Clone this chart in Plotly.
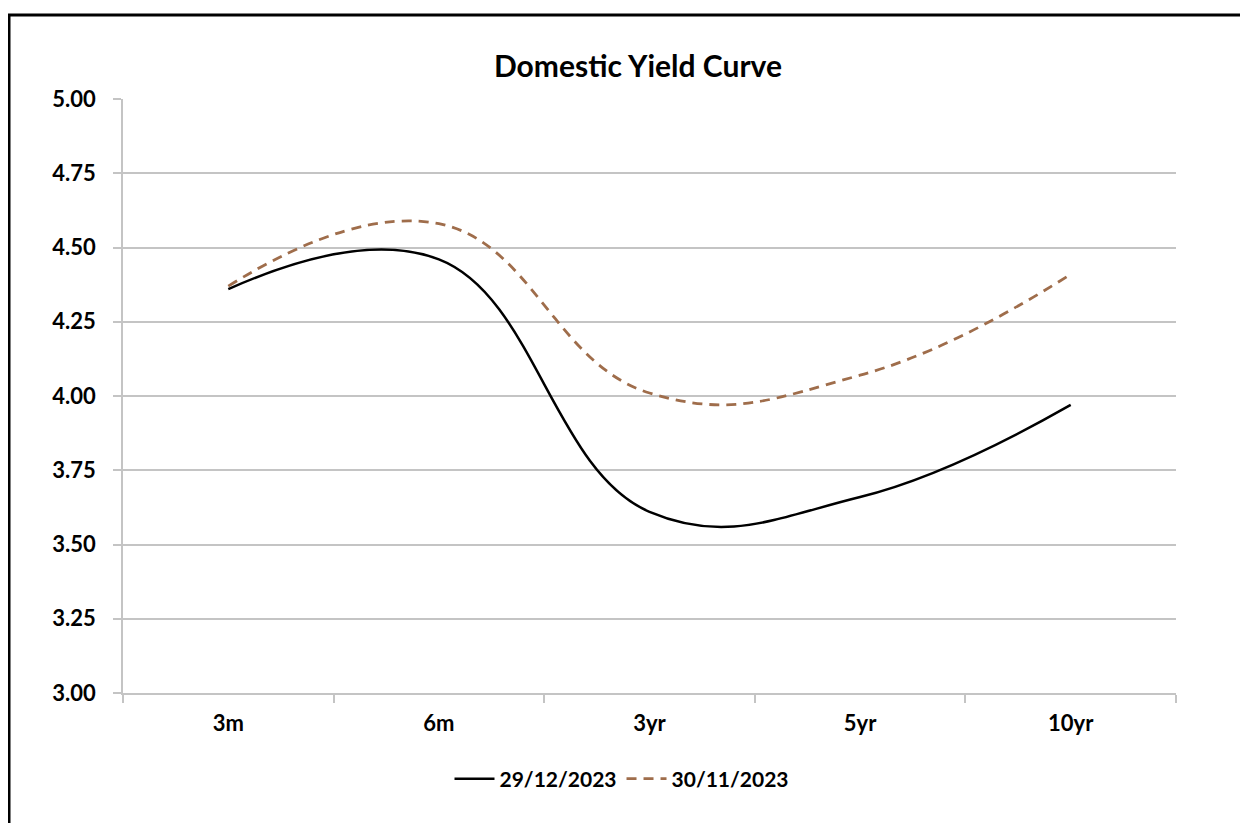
import plotly.graph_objects as go

categories = ["3m", "6m", "3yr", "5yr", "10yr"]
series_dec = [4.36, 4.46, 3.61, 3.66, 3.97]
series_nov = [4.37, 4.58, 4.01, 4.07, 4.41]
name_dec = "29/12/2023"
name_nov = "30/11/2023"
title_text = "Domestic Yield Curve"
y_ticks = [3.00, 3.25, 3.50, 3.75, 4.00, 4.25, 4.50, 4.75, 5.00]

OFF = 8  # page body margin
PAGE_W, PAGE_H = 1248, 823
W, H = PAGE_W - OFF, PAGE_H - OFF
# plot area in page pixels: x 123..1176, y 99..693
ml, mr = 123 - OFF, PAGE_W - 1176
mt, mb = 99 - OFF, PAGE_H - 693
pw, ph = W - ml - mr, H - mt - mb

def px_x(p):
    return (p - OFF - ml) / pw

def px_y(p):
    return (H - mb - (p - OFF)) / ph

FONT = "Lato"
GRID = "#c4c4c4"

fig = go.Figure()
fig.add_trace(go.Scatter(
    x=categories, y=series_dec, name=name_dec, mode="lines",
    line=dict(color="#000000", width=2.5, shape="spline", smoothing=1.2),
))
fig.add_trace(go.Scatter(
    x=categories, y=series_nov, name=name_nov, mode="lines",
    line=dict(color="#9f6d4b", width=2.8, shape="spline", smoothing=1.25, dash="10px,7px"),
))

fig.update_layout(
    width=W, height=H,
    margin=dict(l=ml, r=mr, t=mt, b=mb),
    paper_bgcolor="white", plot_bgcolor="white",
    font=dict(family=FONT, size=21, color="#000000", weight="bold"),
    title=dict(text=title_text, x=(638 - OFF) / W, xref="container", xanchor="center",
               y=1 - (66 - OFF) / H, yref="container", yanchor="middle",
               font=dict(family=FONT, size=30, color="#000000", weight="bold")),
    showlegend=True,
    legend=dict(orientation="h", x=px_x(622), xanchor="center", y=px_y(779), yanchor="middle",
                font=dict(family=FONT, size=21, color="#000000", weight="bold"),
                itemwidth=40, tracegroupgap=0, bgcolor="rgba(0,0,0,0)"),
    xaxis=dict(type="category", range=[-0.5, 4.5], showgrid=False, showline=True,
               linecolor=GRID, linewidth=1.5, ticks="outside", tickson="boundaries",
               ticklen=8, tickcolor=GRID, tickwidth=1.5, ticklabelstandoff=10,
               tickfont=dict(family=FONT, size=22, color="#000000", weight="bold"),
               fixedrange=True),
    yaxis=dict(range=[3, 5], tickvals=y_ticks, tickformat=".2f", showgrid=True,
               gridcolor=GRID, gridwidth=1.5, showline=True, linecolor=GRID, linewidth=1.5,
               ticks="outside", ticklen=8, tickcolor=GRID, tickwidth=1.5,
               ticklabelstandoff=13, zeroline=False,
               tickfont=dict(family=FONT, size=22, color="#000000", weight="bold"),
               fixedrange=True),
    shapes=[dict(type="rect", xref="paper", yref="paper",
                 x0=px_x(9), x1=px_x(PAGE_W + 20), y0=px_y(PAGE_H + 20), y1=px_y(15),
                 line=dict(color="#000000", width=3), fillcolor="rgba(0,0,0,0)", layer="above")],
)

fig.write_html("out.html")
